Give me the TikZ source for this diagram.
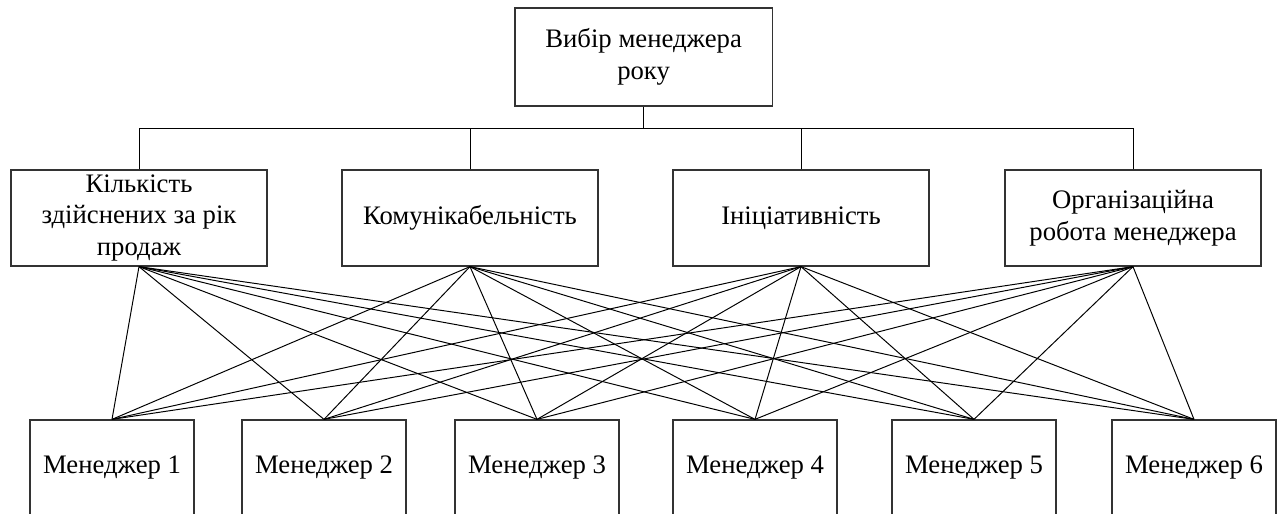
\documentclass[tikz,border=0pt]{standalone}
\usepackage{fontspec}
\setmainfont{Liberation Serif}
\begin{document}
\begin{tikzpicture}[
    box/.style={draw=black!80, line width=0.9pt, fill=white, minimum width=6.4cm, minimum height=2.4cm, inner sep=0.5pt, align=center, font=\fontsize{19}{22.5}\selectfont},
    mbox/.style={box, minimum width=4.1cm},
    link/.style={line width=0.7pt}]
    \useasboundingbox (0,0) rectangle (32,12.85);
    % goal
    \node [box, minimum width=6.43cm, minimum height=2.45cm] (goal) at (16.09,11.425) {Вибір менеджера\\року};
    % criteria
    \node [box] (k1) at (3.475,7.4) {Кількість\\здійснених за рік\\продаж};
    \node [box] (k2) at (11.75,7.4) {Комунікабельність};
    \node [box] (k3) at (20.025,7.4) {Ініціативність};
    \node [box] (k4) at (28.325,7.4) {Організаційна\\робота менеджера};
    \coordinate (bus) at (0,9.625);
    \foreach \k in {k1,k2,k3,k4}
        \draw [link] (\k.north) -- (\k.north |- bus) -| (goal.south);
    % alternatives
    \foreach \m/\x in {1/2.8,2/8.1,3/13.425,4/18.875,5/24.35,6/29.85}
        \node [mbox] (m\m) at (\x,1.15) {Менеджер \m};
    \foreach \k in {k1,k2,k3,k4}
        \foreach \m in {1,...,6}
            \draw [link] (\k.south) -- (m\m.north);
\end{tikzpicture}
\end{document}
